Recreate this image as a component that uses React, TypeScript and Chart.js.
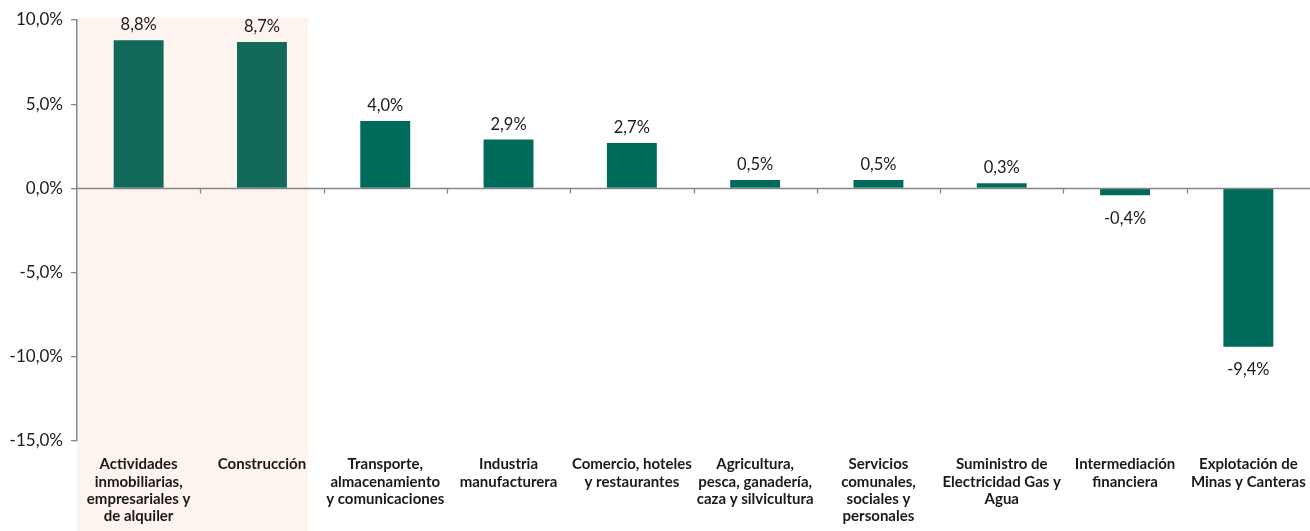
import React, { useEffect, useRef } from "react";
import { Chart, registerables } from "chart.js";

Chart.register(...registerables);

const categories: string[][] = [
  ["Actividades", "inmobiliarias,", "empresariales y", "de alquiler"],
  ["Construcción"],
  ["Transporte,", "almacenamiento", "y comunicaciones"],
  ["Industria", "manufacturera"],
  ["Comercio, hoteles", "y restaurantes"],
  ["Agricultura,", "pesca, ganadería,", "caza y silvicultura"],
  ["Servicios", "comunales,", "sociales y", "personales"],
  ["Suministro de", "Electricidad Gas y", "Agua"],
  ["Intermediación", "financiera"],
  ["Explotación de", "Minas y Canteras"],
];

const values: number[] = [8.8, 8.7, 4.0, 2.9, 2.7, 0.5, 0.5, 0.3, -0.4, -9.4];
const barColors: string[] = [
  "#12695A", "#12695A", "#006B5B", "#006B5B", "#006B5B",
  "#006B5B", "#006B5B", "#006B5B", "#006B5B", "#006B5B",
];
const yMin = -15;
const yMax = 10;
const yStep = 5;

const fmt = (v: number) => v.toFixed(1).replace(".", ",") + "%";
const FONT = "Lato, 'DejaVu Sans', sans-serif";
const AXIS = "#868686";

const highlightPlugin = {
  id: "highlight",
  beforeDraw(chart: any) {
    const { ctx, chartArea } = chart;
    const x = chart.scales.x;
    const step = x.getPixelForValue(1) - x.getPixelForValue(0);
    const right = x.getPixelForValue(1) + step * 0.375;
    ctx.save();
    ctx.fillStyle = "#FDF4EF";
    ctx.fillRect(chartArea.left, chartArea.top - 2, right - chartArea.left, chart.height - chartArea.top + 2);
    ctx.restore();
  },
};

const zeroLinePlugin = {
  id: "zeroLine",
  afterDatasetsDraw(chart: any) {
    const { ctx, chartArea } = chart;
    const x = chart.scales.x;
    const y = chart.scales.y;
    const y0 = Math.round(y.getPixelForValue(0)) + 0.5;
    const step = x.getPixelForValue(1) - x.getPixelForValue(0);
    ctx.save();
    ctx.strokeStyle = AXIS;
    ctx.lineWidth = 1.3;
    ctx.beginPath();
    ctx.moveTo(chartArea.left, y0);
    ctx.lineTo(chart.width, y0);
    for (let i = 1; i < values.length; i++) {
      const px = Math.round(x.getPixelForValue(i) - step / 2) + 0.5;
      ctx.moveTo(px, y0);
      ctx.lineTo(px, y0 + 5);
    }
    ctx.stroke();
    // data labels
    ctx.fillStyle = "#1a1a1a";
    ctx.font = `16.5px ${FONT}`;
    ctx.textAlign = "center";
    const meta = chart.getDatasetMeta(0);
    meta.data.forEach((bar: any, i: number) => {
      const v = values[i];
      if (v >= 0) {
        ctx.textBaseline = "bottom";
        ctx.fillText(fmt(v), bar.x, bar.y - 7);
      } else {
        ctx.textBaseline = "top";
        ctx.fillText(fmt(v), bar.x, bar.y + 15);
      }
    });
    ctx.restore();
  },
};

export default function App() {
  const ref = useRef<HTMLCanvasElement | null>(null);
  useEffect(() => {
    document.body.style.margin = "0";
    const canvas = ref.current!;
    const chart = new Chart(canvas, {
      type: "bar",
      data: {
        labels: categories,
        datasets: [
          {
            data: values,
            backgroundColor: barColors,
            borderWidth: 0,
            categoryPercentage: 1,
            barPercentage: 0.405,
          },
        ],
      },
      plugins: [highlightPlugin, zeroLinePlugin],
      options: {
        animation: false,
        responsive: false,
        maintainAspectRatio: false,
        layout: { padding: { top: 20, right: 0, left: 0, bottom: 0 } },
        plugins: { legend: { display: false }, tooltip: { enabled: false } },
        scales: {
          x: {
            position: "bottom",
            grid: { display: false, drawTicks: false },
            border: { display: false },
            ticks: {
              autoSkip: false,
              maxRotation: 0,
              minRotation: 0,
              padding: 15,
              color: "#1a1a1a",
              font: { family: FONT, size: 15, weight: "bold", lineHeight: 1.15 },
            },
            afterFit: (s: any) => {
              s.height = 90;
              s.paddingLeft = 0;
              s.paddingRight = 0;
            },
          },
          y: {
            min: yMin,
            max: yMax,
            ticks: {
              stepSize: yStep,
              padding: 8,
              color: "#1a1a1a",
              font: { family: FONT, size: 17 },
              callback: (v: any) => fmt(Number(v)),
            },
            grid: {
              drawOnChartArea: false,
              drawTicks: true,
              tickLength: 6,
              tickColor: AXIS,
              lineWidth: 1.3,
            },
            border: { display: true, color: AXIS, width: 1.5 },
            afterFit: (s: any) => {
              s.width = 77;
              s.paddingTop = 0;
              s.paddingBottom = 0;
            },
          },
        },
      },
    });
    return () => chart.destroy();
  }, []);
  return (
    <div style={{ width: 1310, height: 531 }}>
      <canvas ref={ref} width={1310} height={531} style={{ display: "block" }} />
    </div>
  );
}
